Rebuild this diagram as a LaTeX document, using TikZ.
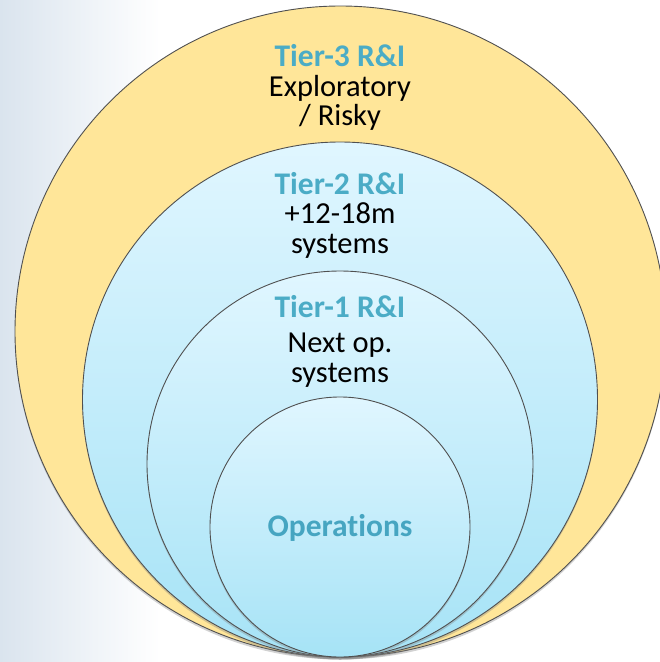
\documentclass[tikz,border=0pt]{standalone}
\usepackage{fontspec}
\setmainfont{Carlito}[Ligatures=NoCommon]
\usetikzlibrary{shadows}
\definecolor{ringyellow}{HTML}{FFE699}
\definecolor{tierblue}{HTML}{4BACC6}
\definecolor{opsblue}{HTML}{46A5C1}
\definecolor{ringline}{HTML}{505050}
\definecolor{skyblue}{HTML}{DAE4EE}
\definecolor{icetop}{HTML}{E0F6FF}
\definecolor{icebottom}{HTML}{A6E3F6}
\tikzset{
  ring/.style={draw=ringline, line width=0.9pt,
    drop shadow={shadow xshift=0pt, shadow yshift=-2.5pt, opacity=0.35}},
  icering/.style={ring, top color=icetop, bottom color=icebottom},
  tiertitle/.style={anchor=base, inner sep=0pt, text=tierblue, font=\fontsize{31.5}{36}\selectfont\bfseries},
  tiertext/.style={anchor=base, inner sep=0pt, text=black, font=\fontsize{30.5}{36}\selectfont},
}
\begin{document}
\begin{tikzpicture}[x=1pt,y=-1pt]
\useasboundingbox (0,0) rectangle (660,662);
\clip (0,0) rectangle (660,662);
% pale sky backdrop on the left edge
\shade[left color=skyblue, right color=white] (0,0) rectangle (160,662);
\fill[white] (160,0) rectangle (660,662);

% nested rings, all touching at the bottom
\path[ring, fill=ringyellow] (340.5,331.5) circle (325.5);
\path[icering] (340,399.5) circle (257.5);
\path[icering] (340,464) circle (193);
\path[icering] (340,527) circle (130);

% labels
\node[tiertitle] (t3a) at (340,66) {Tier-3 R\&I};
\node[tiertext]  (t3b) at (340,96.5) {Exploratory};
\node[tiertext]  (t3c) at (340,125.5) {/ Risky};

\node[tiertitle] (t2a) at (340,194) {Tier-2 R\&I};
\node[tiertext]  (t2b) at (340,223.5) {+12-18m};
\node[tiertext]  (t2c) at (340,253) {systems};

\node[tiertitle] (t1a) at (340,317) {Tier-1 R\&I};
\node[tiertext]  (t1b) at (340,352.5) {Next op.};
\node[tiertext]  (t1c) at (340,382) {systems};

\node[tiertitle, text=opsblue] (ops) at (340,536) {Operations};
\end{tikzpicture}
\end{document}
